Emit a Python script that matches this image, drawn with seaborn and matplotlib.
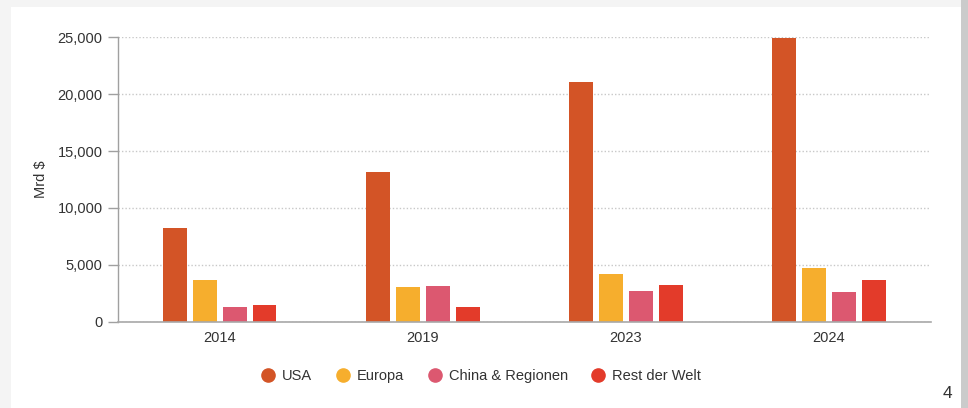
import matplotlib
matplotlib.use("Agg")
import matplotlib.pyplot as plt
from matplotlib.lines import Line2D
from matplotlib.patches import Rectangle
from matplotlib.ticker import FuncFormatter
import pandas as pd
import seaborn as sns

# Market capitalisation by region, billions of dollars
years = ["2014", "2019", "2023", "2024"]
regions = ["USA", "Europa", "China & Regionen", "Rest der Welt"]
usa = [8250, 13200, 21100, 24950]
europa = [3650, 3050, 4150, 4700]
china = [1300, 3150, 2700, 2600]
rest = [1500, 1300, 3250, 3650]
colors = ["#D35426", "#F6AE2D", "#DC5870", "#E33B2A"]

series = {"USA": usa, "Europa": europa, "China & Regionen": china, "Rest der Welt": rest}
df = pd.DataFrame(
    [(y, r, series[r][i]) for r in regions for i, y in enumerate(years)],
    columns=["Jahr", "Region", "Wert"],
)

sns.set_theme(style="white")
plt.rcParams["font.family"] = ["Liberation Sans", "DejaVu Sans"]

fig = plt.figure(figsize=(9.68, 4.08), dpi=100, facecolor="white")

# page frame around the card
fig.patches.append(Rectangle((0, 0), 11 / 968, 1, transform=fig.transFigure,
                             facecolor="#f4f4f4", edgecolor="none", zorder=-5))
fig.patches.append(Rectangle((0, 1 - 7 / 408), 1, 7 / 408, transform=fig.transFigure,
                             facecolor="#f4f4f4", edgecolor="none", zorder=-5))
fig.patches.append(Rectangle((961 / 968, 0), 7 / 968, 1, transform=fig.transFigure,
                             facecolor="#cbcbcb", edgecolor="none", zorder=-5))

ax = fig.add_axes([118 / 968, 1 - 321.7 / 408, (930.5 - 118) / 968, (321.7 - 37.3) / 408])

sns.barplot(data=df, x="Jahr", y="Wert", hue="Region", hue_order=regions,
            order=years, palette=colors, width=0.59, gap=0.2, ax=ax,
            legend=False, saturation=1, linewidth=0)

ax.set_xlim(-0.5, 3.5)
ax.set_ylim(0, 25000)
ax.set_yticks([0, 5000, 10000, 15000, 20000, 25000])
ax.yaxis.set_major_formatter(FuncFormatter(lambda v, p: f"{int(v):,}"))
ax.grid(axis="y", linestyle=(0, (1, 1.5)), color="#c8c8c8", linewidth=1.0)
ax.set_axisbelow(True)

for side in ["top", "right"]:
    ax.spines[side].set_visible(False)
ax.spines["left"].set_color("#a0a0a0")
ax.spines["bottom"].set_color("#a8a8a8")
ax.spines["left"].set_linewidth(1.0)
ax.spines["bottom"].set_linewidth(1.2)

ax.tick_params(axis="y", length=7, width=1, color="#a0a0a0", pad=4,
               labelsize=10.5, labelcolor="#333333", left=True)
ax.tick_params(axis="x", length=0, pad=7, labelsize=10.5, labelcolor="#333333")
ax.set_xlabel("")
ax.set_ylabel("Mrd $", fontsize=10.5, color="#333333", labelpad=7)

handles = [Line2D([], [], marker="o", linestyle="none", markersize=9.5,
                  markerfacecolor=c, markeredgecolor=c) for c in colors]
fig.legend(handles, regions, loc="center", bbox_to_anchor=(0.497, 0.078),
           ncol=4, frameon=False, fontsize=10.5, handlelength=1.0,
           handletextpad=0.45, columnspacing=1.6, labelcolor="#333333")

fig.text(947 / 968, 1 - 394 / 408, "4", fontsize=12.5, color="#333333",
         ha="center", va="center")

fig.savefig("out.png", dpi=100, facecolor="white")
